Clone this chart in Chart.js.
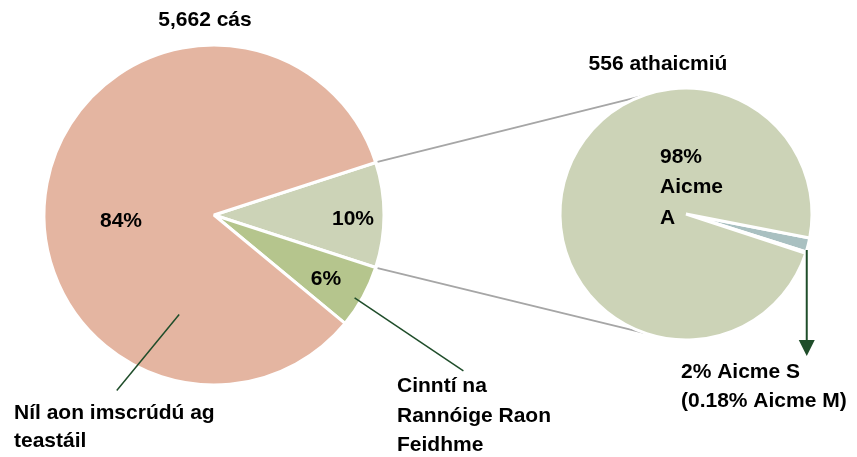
<!DOCTYPE html>
<html>
<head>
<meta charset="utf-8">
<script src="https://cdn.jsdelivr.net/npm/chart.js@4.4.1/dist/chart.umd.min.js"></script>
<style>
  body { margin: 0; background: #fff; }
  #wrap { position: relative; width: 857px; height: 457px; }
  #wrap canvas { position: absolute; left: 0; top: 0; }
</style>
</head>
<body>
<div id="wrap">
  <canvas id="pieCasanna" width="857" height="457"></canvas>
  <canvas id="pieAicmi" width="857" height="457"></canvas>
</div>
<script>
// Príomhphíchairt: 5,662 cás
const casLabels = ['Athaicmiú', 'Cinntí na Rannóige Raon Feidhme', 'Níl aon imscrúdú ag teastáil'];
const casValues = [10, 6, 84];
const casColors = ['#ccd3b7', '#b5c58d', '#e4b5a1'];

// Píchairt na n-athaicmiú: 556 athaicmiú
const aicmeLabels = ['Aicme S', 'Aicme M', 'Aicme A'];
const aicmeValues = [1.82, 0.18, 98];
const aicmeColors = ['#a9c0c1', '#a9c0c1', '#ccd3b7'];

const FONT = 'bold 21px "Liberation Sans", Arial, sans-serif';
const DARK = '#1f4d2a';

function baseOptions(rotation, radius, padding) {
    return {
        responsive: false,
        animation: false,
        events: [],
        rotation: rotation,
        radius: radius,
        layout: { padding: padding },
        plugins: { legend: { display: false }, tooltip: { enabled: false } }
    };
}

const leftChart = new Chart(document.getElementById('pieCasanna'), {
    type: 'pie',
    data: {
        labels: casLabels,
        datasets: [{
            data: casValues,
            backgroundColor: casColors,
            borderColor: '#ffffff',
            borderWidth: 3
        }]
    },
    options: baseOptions(72, 170, { left: 0, right: 429, top: 0, bottom: 27 })
});

function polar(arc, deg, f) {
    const a = deg * Math.PI / 180;
    return { x: arc.x + Math.cos(a) * arc.outerRadius * f, y: arc.y + Math.sin(a) * arc.outerRadius * f };
}

function line(ctx, p1, p2, color, w) {
    ctx.save();
    ctx.strokeStyle = color;
    ctx.lineWidth = w;
    ctx.beginPath();
    ctx.moveTo(p1.x, p1.y);
    ctx.lineTo(p2.x, p2.y);
    ctx.stroke();
    ctx.restore();
}

function text(ctx, str, x, y, align) {
    ctx.save();
    ctx.font = FONT;
    ctx.fillStyle = '#000';
    ctx.textAlign = align || 'left';
    ctx.textBaseline = 'alphabetic';
    ctx.fillText(str, x, y);
    ctx.restore();
}

const annotations = {
    id: 'annotations',
    beforeDatasetsDraw(chart) {
        // línte ceangail idir an dá phíchairt
        const ctx = chart.ctx;
        const left = leftChart.getDatasetMeta(0).data[0];
        const right = chart.getDatasetMeta(0).data[0];
        const r = left.outerRadius + 2;
        const p1 = { x: left.x + Math.cos(left.startAngle) * r, y: left.y + Math.sin(left.startAngle) * r };
        const p2 = { x: left.x + Math.cos(left.endAngle) * r, y: left.y + Math.sin(left.endAngle) * r };
        line(ctx, p1, polar(right, -111, 1), '#a6a6a6', 2);
        line(ctx, p2, polar(right, 109, 1), '#a6a6a6', 2);
    },
    afterDraw(chart) {
        const ctx = chart.ctx;
        const left = leftChart.getDatasetMeta(0).data[0];
        const right = chart.getDatasetMeta(0).data[0];
        const small = chart.getDatasetMeta(0).data[1];

        // línte treorach
        line(ctx, polar(left, 109.3, 0.62), polar(left, 119, 1.18), DARK, 1.5);
        line(ctx, polar(left, 30.5, 0.96), polar(left, 32, 1.73), DARK, 1.5);

        // saighead go dtí Aicme S / M
        const a0 = polar(small, small.endAngle * 180 / Math.PI - 1.6, 1);
        const tipY = a0.y + 106;
        line(ctx, a0, { x: a0.x, y: tipY - 14 }, DARK, 2);
        ctx.save();
        ctx.fillStyle = DARK;
        ctx.beginPath();
        ctx.moveTo(a0.x - 8, tipY - 16);
        ctx.lineTo(a0.x + 8, tipY - 16);
        ctx.lineTo(a0.x, tipY);
        ctx.closePath();
        ctx.fill();
        ctx.restore();

        // teidil
        text(ctx, '5,662 cás', left.x - 9, left.y - left.outerRadius - 19, 'center');
        text(ctx, '556 athaicmiú', right.x - 28, right.y - right.outerRadius - 18, 'center');

        // lipéid sna slisní
        text(ctx, '84%', left.x - 93, left.y + 12, 'center');
        text(ctx, '10%', left.x + 139, left.y + 10, 'center');
        text(ctx, '6%', left.x + 112, left.y + 70, 'center');
        text(ctx, '98%', right.x - 26, right.y - 51);
        text(ctx, 'Aicme', right.x - 26, right.y - 21);
        text(ctx, 'A', right.x - 26, right.y + 10);

        // lipéid lasmuigh
        text(ctx, 'Níl aon imscrúdú ag', 14, 419);
        text(ctx, 'teastáil', 14, 447);
        text(ctx, 'Cinntí na', 397, 392);
        text(ctx, 'Rannóige Raon', 397, 422);
        text(ctx, 'Feidhme', 397, 451);
        text(ctx, '2% Aicme S', 681, 378);
        text(ctx, '(0.18% Aicme M)', 681, 407);
    }
};

new Chart(document.getElementById('pieAicmi'), {
    type: 'pie',
    data: {
        labels: aicmeLabels,
        datasets: [{
            data: aicmeValues,
            backgroundColor: aicmeColors,
            borderColor: '#ffffff',
            borderWidth: 3
        }]
    },
    options: baseOptions(101, 126, { left: 560, right: 45, top: 88, bottom: 117 }),
    plugins: [annotations]
});
</script>
</body>
</html>
